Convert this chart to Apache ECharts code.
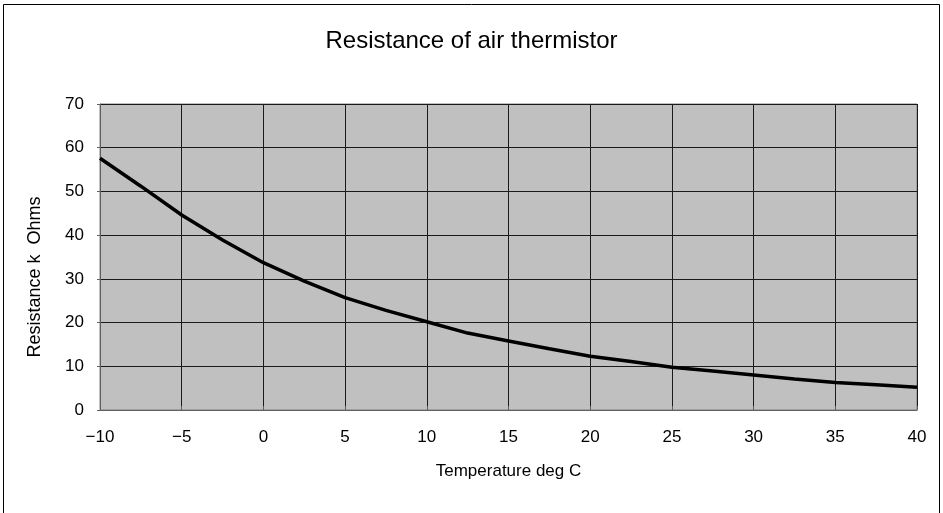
<!DOCTYPE html>
<html>
<head>
<meta charset="utf-8">
<script src="https://cdn.jsdelivr.net/npm/echarts@6/dist/echarts.min.js"></script>
<style>
  html, body { margin: 0; padding: 0; background: #fff; }
  #main { width: 943px; height: 513px; }
</style>
</head>
<body>
<div id="main"></div>
<script>
// temperature (deg C) and resistance (k Ohms)
var temps = [-10, -7.5, -5, -2.5, 0, 2.5, 5, 7.5, 10, 12.5, 15, 17.5, 20, 22.5, 25, 27.5, 30, 32.5, 35, 37.5, 40];
var resistance = [57.6, 51.2, 44.6, 38.9, 33.7, 29.5, 25.7, 22.8, 20.2, 17.6, 15.8, 14.0, 12.3, 11.1, 9.8, 8.9, 8.0, 7.1, 6.3, 5.8, 5.2];

var chart = echarts.init(document.getElementById('main'));

var font = '"Liberation Sans", Arial, sans-serif';

chart.setOption({
    animation: false,
    backgroundColor: '#fff',
    title: {
        text: 'Resistance of air thermistor',
        left: 'center',
        top: 24,
        textStyle: { fontFamily: font, fontSize: 24, fontWeight: 'normal', color: '#000' }
    },
    graphic: [{
        // outer frame
        type: 'rect',
        shape: { x: 3.5, y: 4.5, width: 936, height: 540 },
        style: { fill: null, stroke: '#000', lineWidth: 1 },
        silent: true
    }],
    grid: {
        left: 100, right: 26, top: 104, bottom: 103,
        show: true,
        backgroundColor: '#c0c0c0',
        borderColor: '#808080',
        borderWidth: 1
    },
    xAxis: {
        type: 'value',
        min: -10, max: 40, interval: 5,
        name: 'Temperature deg C',
        nameLocation: 'middle',
        nameGap: 53,
        nameTextStyle: { fontFamily: font, fontSize: 17, color: '#000' },
        axisLine: { show: true, onZero: false, lineStyle: { color: '#606060' } },
        axisTick: { show: true, inside: true, length: 4, lineStyle: { color: '#606060' } },
        axisLabel: {
            fontFamily: font, fontSize: 17, color: '#000', margin: 19,
            formatter: function (v) { return v < 0 ? '\u2212' + Math.abs(v) : String(v); }
        },
        splitLine: { show: true, lineStyle: { color: '#1a1a1a', width: 1 } }
    },
    yAxis: {
        type: 'value',
        min: 0, max: 70, interval: 10,
        name: 'Resistance k  Ohms',
        nameLocation: 'middle',
        nameGap: 56,
        nameTextStyle: { fontFamily: font, fontSize: 18, color: '#000', padding: [0, 40, 0, 0] },
        axisLine: { show: true, onZero: false, lineStyle: { color: '#606060' } },
        axisTick: { show: true, length: 3, lineStyle: { color: '#606060' } },
        axisLabel: { fontFamily: font, fontSize: 17, color: '#000', margin: 16 },
        splitLine: { show: true, lineStyle: { color: '#1a1a1a', width: 1 } }
    },
    series: [{
        type: 'line',
        data: temps.map(function (t, i) { return [t, resistance[i]]; }),
        showSymbol: false,
        lineStyle: { color: '#000', width: 3.5 }
    }]
});
</script>
</body>
</html>
